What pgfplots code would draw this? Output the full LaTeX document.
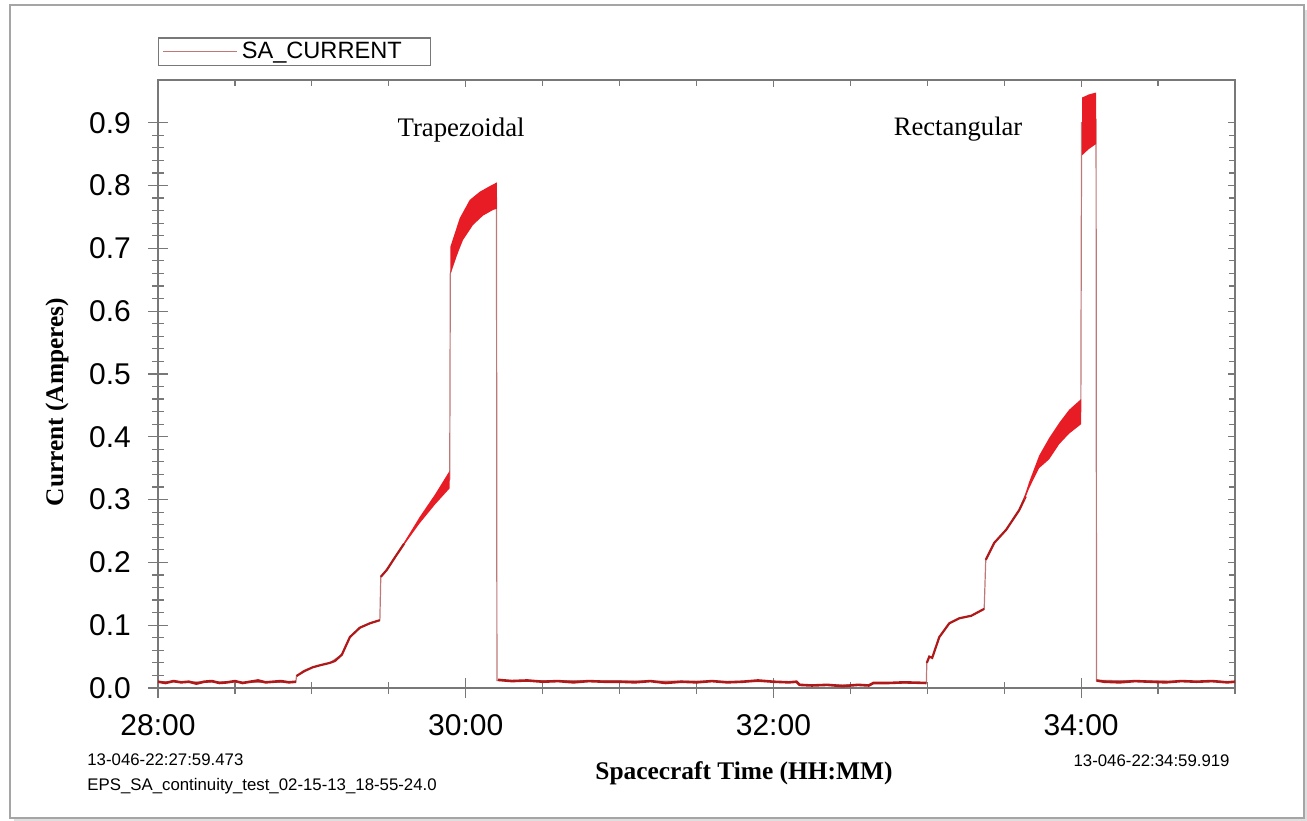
\documentclass[border=0pt]{standalone}
\usepackage{pgfplots}
\pgfplotsset{compat=1.18}
\usepackage{fontspec}
\setmainfont{Liberation Sans}
\newfontfamily\timesfont{Liberation Serif}

\definecolor{axgray}{RGB}{120,120,120}
\definecolor{thinred}{RGB}{190,120,120}
\definecolor{darkred}{RGB}{175,25,25}
\definecolor{bandred}{RGB}{232,28,36}
\definecolor{framegray}{RGB}{165,165,165}

\begin{document}
\begin{tikzpicture}
\useasboundingbox (0,0) rectangle (653.5pt,410pt);
% outer frame with a light shadow
\draw[gray!25, line width=2pt] (7pt,-0.5pt) -- (653pt,-0.5pt) -- (653pt,405pt);
\draw[framegray, line width=1pt] (5pt,1pt) rectangle (652pt,407.5pt);

\begin{axis}[
    at={(79pt,66pt)}, anchor=south west,
    scale only axis, width=538.5pt, height=304pt,
    xmin=28, xmax=35, ymin=0, ymax=0.968,
    axis line style={axgray, line width=0.8pt},
    every tick/.style={axgray, line width=0.6pt},
    tick align=center, xtick pos=left, ytick pos=left,
    major tick length=10pt, minor tick length=6pt,
    xtick={28,30,32,34},
    xticklabels={28:00,30:00,32:00,34:00},
    minor xtick={28.5,29,29.5,30.5,31,31.5,32.5,33,33.5,34.5,35},
    ytick={0,0.1,0.2,0.3,0.4,0.5,0.6,0.7,0.8,0.9},
    minor y tick num=4,
    /pgf/number format/assume math mode=true,
    yticklabel style={/pgf/number format/fixed, /pgf/number format/fixed zerofill, /pgf/number format/precision=1, xshift=-5pt},
    xticklabel style={yshift=-4.5pt},
    ticklabel style={font=\fontsize{15}{18}\selectfont},
    clip=false,
    legend style={at={(0,1)}, anchor=south west, yshift=7pt,
        draw=axgray, line width=0.6pt, inner xsep=2pt, inner ysep=0pt,
        font=\fontsize{11.8}{13}\selectfont,
        nodes={text width=90.5pt, align=left}},
    legend image code/.code={\draw[#1, line width=0.6pt] (0pt,0pt) -- (28pt,0pt);
        \path (0pt,0pt) -- (37pt,0pt);},
]
% full trace (thin)
\addplot[thinred, line width=0.6pt] coordinates {
(28.000,0.010) (28.896,0.009) (28.900,0.019) (29.006,0.033) (29.117,0.040)
(29.195,0.053) (29.247,0.081) (29.312,0.096) (29.377,0.103) (29.442,0.108)
(29.448,0.177) (29.487,0.188) (29.600,0.230) (29.700,0.267) (29.800,0.300)
(29.896,0.332) (29.900,0.660) (29.940,0.690) (29.961,0.710) (30.026,0.745)
(30.091,0.765) (30.156,0.775) (30.200,0.780) (30.203,0.012) (32.150,0.010)
(32.170,0.005) (32.620,0.005) (32.650,0.008) (32.994,0.008) (32.997,0.040)
(33.013,0.050) (33.032,0.048) (33.078,0.081) (33.143,0.103) (33.208,0.111)
(33.286,0.115) (33.370,0.126) (33.380,0.204) (33.435,0.231) (33.513,0.252)
(33.597,0.283) (33.662,0.322) (33.727,0.360) (33.792,0.382) (33.857,0.405)
(33.922,0.424) (33.998,0.440) (34.003,0.900) (34.050,0.900) (34.097,0.905)
(34.100,0.012) (35.000,0.010)
};
\addlegendentry{SA\_CURRENT}

% noisy low-level and ramp segments (thick)
\addplot[darkred, line width=1.3pt, forget plot] coordinates {
(28.00,0.010) (28.05,0.008) (28.10,0.011) (28.15,0.009) (28.20,0.010) (28.25,0.007)
(28.30,0.010) (28.35,0.011) (28.40,0.008) (28.45,0.009) (28.50,0.011) (28.55,0.008)
(28.60,0.010) (28.65,0.012) (28.70,0.009) (28.75,0.010) (28.80,0.011) (28.85,0.009)
(28.896,0.010)
};
\addplot[darkred, line width=1.1pt, forget plot] coordinates {
(28.900,0.019) (28.950,0.027) (29.006,0.033) (29.050,0.036) (29.117,0.040)
(29.150,0.043) (29.195,0.053) (29.247,0.081) (29.312,0.096) (29.377,0.103)
(29.442,0.108)
};
\addplot[darkred, line width=1.1pt, forget plot] coordinates {
(29.448,0.177) (29.487,0.188) (29.540,0.208) (29.600,0.230)
};
\addplot[darkred, line width=1.3pt, forget plot] coordinates {
(30.21,0.013) (30.30,0.011) (30.40,0.012) (30.50,0.010) (30.60,0.011) (30.70,0.009)
(30.80,0.011) (30.90,0.010) (31.00,0.010) (31.10,0.009) (31.20,0.011) (31.30,0.008)
(31.40,0.010) (31.50,0.009) (31.60,0.011) (31.70,0.009) (31.80,0.010) (31.90,0.012)
(32.00,0.010) (32.10,0.009) (32.15,0.010) (32.17,0.005) (32.25,0.004) (32.35,0.005)
(32.45,0.003) (32.55,0.005) (32.62,0.004) (32.65,0.008) (32.75,0.008) (32.85,0.009)
(32.994,0.008)
};
\addplot[darkred, line width=1.1pt, forget plot] coordinates {
(32.997,0.040) (33.013,0.050) (33.032,0.048) (33.078,0.081) (33.143,0.103)
(33.208,0.111) (33.286,0.115) (33.370,0.126)
};
\addplot[darkred, line width=1.1pt, forget plot] coordinates {
(33.380,0.204) (33.435,0.231) (33.513,0.252) (33.597,0.283) (33.640,0.305)
};
\addplot[darkred, line width=1.3pt, forget plot] coordinates {
(34.100,0.012) (34.15,0.010) (34.25,0.009) (34.35,0.011) (34.45,0.010) (34.55,0.009)
(34.65,0.011) (34.75,0.010) (34.85,0.011) (34.95,0.009) (35.00,0.010)
};

% ripple envelopes (filled bands)
\addplot[fill=bandred, draw=none, forget plot] coordinates {
(29.60,0.232) (29.70,0.272) (29.80,0.308) (29.896,0.346)
(29.896,0.318) (29.80,0.292) (29.70,0.262) (29.60,0.228)
};
\addplot[fill=bandred, draw=none, forget plot] coordinates {
(29.901,0.703) (29.961,0.748) (30.026,0.777) (30.091,0.790) (30.156,0.799) (30.203,0.805)
(30.203,0.763) (30.177,0.761) (30.112,0.752) (30.047,0.737) (29.982,0.713) (29.940,0.687) (29.901,0.660)
};
\addplot[fill=bandred, draw=none, forget plot] coordinates {
(33.630,0.303) (33.662,0.328) (33.727,0.370) (33.792,0.398) (33.857,0.422) (33.922,0.443) (34.000,0.460)
(34.000,0.420) (33.922,0.405) (33.857,0.388) (33.792,0.364) (33.727,0.350) (33.662,0.318) (33.630,0.298)
};
\addplot[fill=bandred, draw=none, forget plot] coordinates {
(34.006,0.940) (34.050,0.945) (34.097,0.948)
(34.097,0.866) (34.050,0.858) (34.006,0.848)
};

\node[font=\timesfont\fontsize{13.4}{16}\selectfont] at (axis cs:29.97,0.889) {Trapezoidal};
\node[font=\timesfont\fontsize{13.3}{16}\selectfont] at (axis cs:33.20,0.889) {Rectangular};
\end{axis}

% inward ticks on the top and right sides
\begin{axis}[
    at={(79pt,66pt)}, anchor=south west,
    scale only axis, width=538.5pt, height=304pt,
    xmin=28, xmax=35, ymin=0, ymax=0.968,
    axis line style={draw=none},
    every tick/.style={axgray, line width=0.6pt},
    tick align=inside, xtick pos=right, ytick pos=right,
    major tick length=3.5pt, minor tick length=3pt,
    xtick={28,30,32,34},
    minor xtick={28.5,29,29.5,30.5,31,31.5,32.5,33,33.5,34.5,35},
    ytick={0,0.1,0.2,0.3,0.4,0.5,0.6,0.7,0.8,0.9},
    minor y tick num=4,
    xticklabels={}, yticklabels={},
]
\end{axis}

\node[rotate=90, font=\timesfont\bfseries\fontsize{12.7}{15}\selectfont] at (28.5pt,209pt) {Current (Amperes)};
\node[font=\timesfont\bfseries\fontsize{12.7}{15}\selectfont] at (372pt,23.5pt) {Spacecraft Time (HH:MM)};
\node[anchor=west, inner sep=0pt, font=\fontsize{8.4}{10}\selectfont] at (43.5pt,30pt) {13-046-22:27:59.473};
\node[anchor=west, inner sep=0pt, font=\fontsize{8.4}{10}\selectfont] at (43.5pt,17pt) {EPS\_SA\_continuity\_test\_02-15-13\_18-55-24.0};
\node[anchor=east, inner sep=0pt, font=\fontsize{8.4}{10}\selectfont] at (615pt,29.5pt) {13-046-22:34:59.919};
\end{tikzpicture}
\end{document}
